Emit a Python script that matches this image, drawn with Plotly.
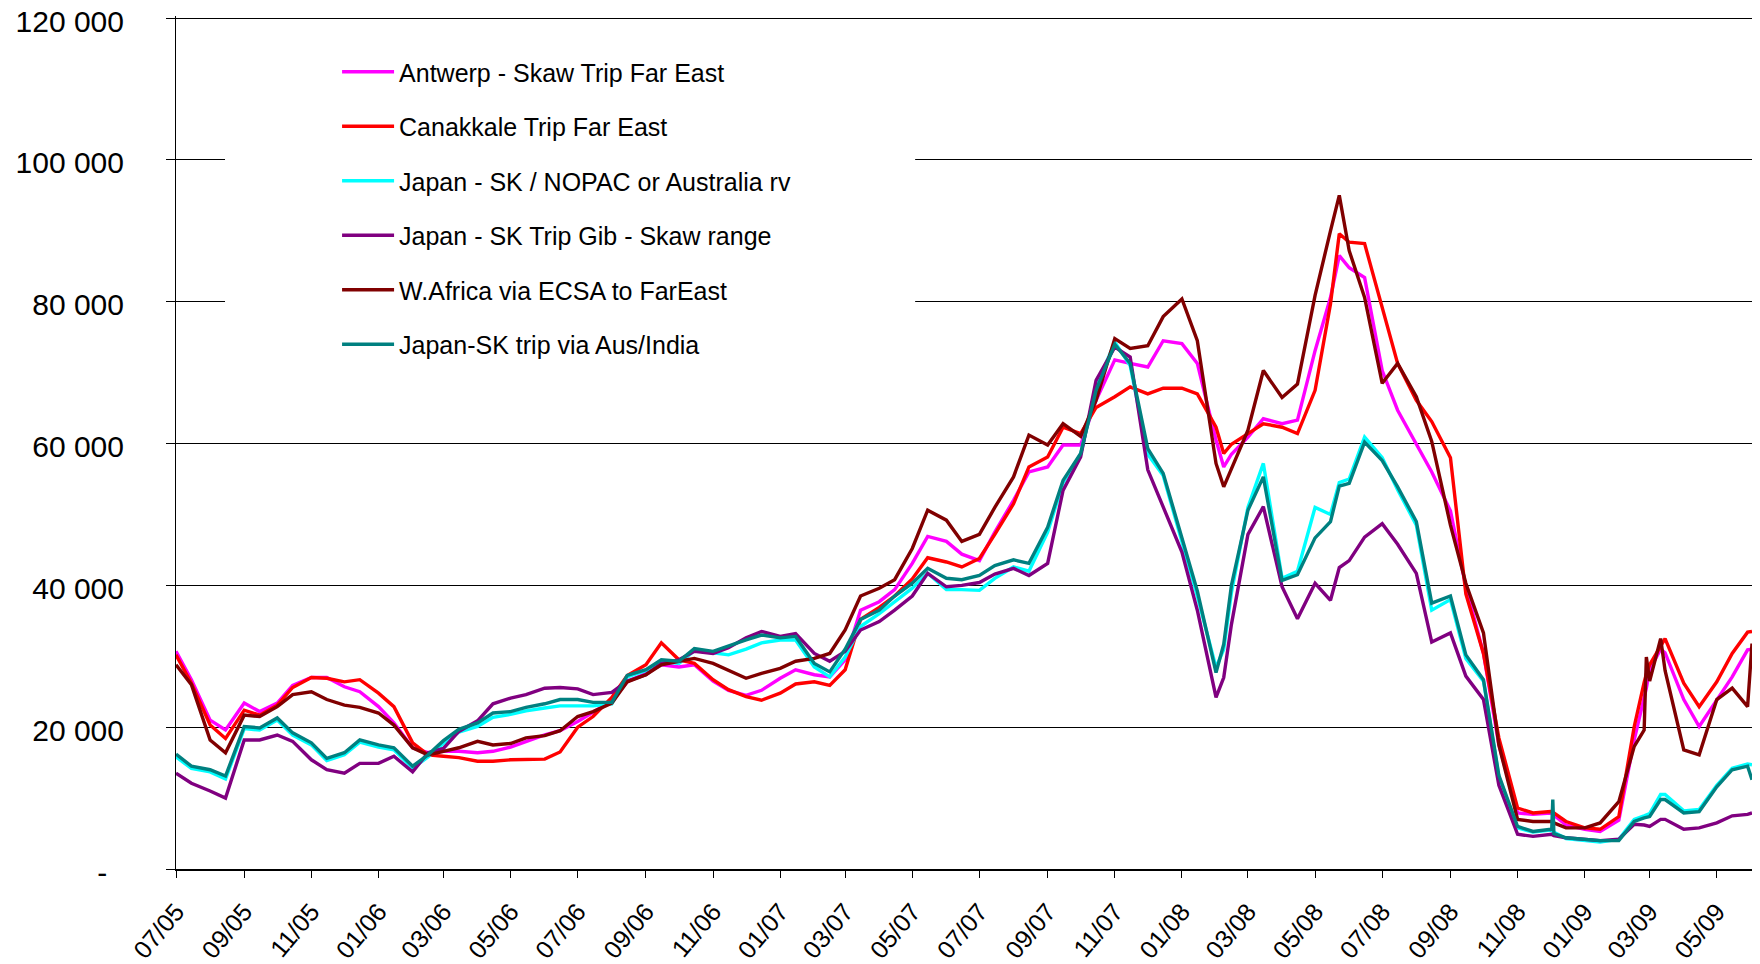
import plotly.graph_objects as go

dates = [
    "2005-07-01", "2005-07-15", "2005-08-01", "2005-08-15", "2005-09-01", "2005-09-15",
    "2005-10-01", "2005-10-15", "2005-11-01", "2005-11-15", "2005-12-01", "2005-12-15",
    "2006-01-01", "2006-01-15", "2006-02-01", "2006-02-15", "2006-03-01", "2006-03-15",
    "2006-04-01", "2006-04-15", "2006-05-01", "2006-05-15", "2006-06-01", "2006-06-15",
    "2006-07-01", "2006-07-15", "2006-08-01", "2006-08-15", "2006-09-01", "2006-09-15",
    "2006-10-01", "2006-10-15", "2006-11-01", "2006-11-15", "2006-12-01", "2006-12-15",
    "2007-01-01", "2007-01-15", "2007-02-01", "2007-02-15", "2007-03-01", "2007-03-15",
    "2007-04-01", "2007-04-15", "2007-05-01", "2007-05-15", "2007-06-01", "2007-06-15",
    "2007-07-01", "2007-07-15", "2007-08-01", "2007-08-15", "2007-09-01", "2007-09-15",
    "2007-10-01", "2007-10-15", "2007-11-01", "2007-11-15", "2007-12-01", "2007-12-15",
    "2008-01-01", "2008-01-15", "2008-02-01", "2008-02-08", "2008-02-15", "2008-03-01",
    "2008-03-15", "2008-04-01", "2008-04-15", "2008-05-01", "2008-05-15", "2008-05-23",
    "2008-06-01", "2008-06-15", "2008-07-01", "2008-07-15", "2008-08-01", "2008-08-15",
    "2008-09-01", "2008-09-15", "2008-10-01", "2008-10-15", "2008-11-01", "2008-11-15",
    "2008-12-01", "2008-12-02", "2008-12-03", "2008-12-04", "2008-12-15",
    "2009-01-01", "2009-01-15", "2009-02-01", "2009-02-15", "2009-02-24", "2009-02-26",
    "2009-03-01", "2009-03-11", "2009-03-15", "2009-04-01", "2009-04-15", "2009-05-01",
    "2009-05-15", "2009-05-29", "2009-06-02",
]

antwerp_far_east = [
    30700, 26700, 21000, 19600, 23400, 22200, 23400, 25900, 27000, 27000, 25700, 25000,
    22900, 20600, 17100, 16400, 16600, 16600, 16400, 16600, 17200, 18000, 18900, 19500,
    20800, 22100, 23700, 26400, 27600, 28800, 28500, 28800, 26500, 25200, 24500, 25200,
    26900, 28100, 27400, 27100, 29500, 36500, 37700, 39400, 43100, 46900, 46200, 44400,
    43500, 47500, 52000, 56000, 56700, 59800, 59800, 66100, 71800, 71300, 70800, 74500,
    74100, 71300, 60500, 56700, 58500, 60900, 63500, 62800, 63300, 73100, 80600, 86500,
    84800, 83400, 70300, 64700, 60000, 56000, 50500, 39800, 30400, 17500, 7900, 7700,
    7900, 7800, 7700, 7600, 6200,
    5600, 5300, 6900, 18200, 23900, 25500, 28100, 31000, 30500, 23900, 20100, 23900,
    27100, 30900, 31000,
]

canakkale_far_east = [
    30200, 26200, 20300, 18400, 22400, 21700, 23100, 25600, 27000, 26900, 26400, 26700,
    24800, 22900, 17800, 16100, 15900, 15700, 15200, 15200, 15400, 15500, 15500, 16500,
    20000, 21500, 24200, 27300, 28800, 31900, 29500, 29000, 26700, 25300, 24300, 23800,
    24800, 26100, 26400, 25900, 28100, 35200, 36900, 38500, 40900, 43900, 43300, 42600,
    43800, 47200, 51500, 56700, 58100, 62300, 61400, 65100, 66600, 68000, 67000, 67800,
    67800, 67000, 62300, 58600, 59900, 61400, 62800, 62300, 61400, 67500, 79700, 89600,
    88400, 88200, 79200, 71300, 66100, 63100, 58000, 38800, 30400, 18500, 8600, 7900,
    8100, 8100, 8000, 7900, 6700,
    5800, 5600, 7400, 20100, 26300, 27500, 28800, 31500, 32500, 26200, 22900, 26400,
    30400, 33400, 33500,
]

japan_nopac_australia = [
    15800, 14200, 13700, 12700, 19800, 19600, 21000, 18900, 17500, 15300, 16100, 17900,
    17200, 16800, 14200, 15800, 17700, 19300, 20100, 21400, 21800, 22300, 22700, 23000,
    23000, 23000, 23300, 27100, 28000, 29300, 29000, 30800, 30500, 30200, 31000, 31900,
    32300, 32300, 28500, 27100, 29900, 34200, 36000, 37700, 39600, 41700, 39400, 39400,
    39300, 41000, 42600, 42000, 47500, 54500, 58500, 68000, 74300, 71000, 58500, 55500,
    46000, 38500, 28400, 31000, 39000, 51000, 57200, 41000, 42000, 51000, 50000, 54500,
    55000, 60900, 58000, 53500, 48500, 36500, 38000, 29700, 26500, 13000, 5800, 5200,
    5500, 5400, 5300, 5200, 4300,
    4000, 3800, 4200, 7000, 7500, 7600, 7800, 10500, 10500, 8200, 8400, 11800,
    14200, 14800, 14700,
]

japan_gib_skaw = [
    13500, 12100, 11000, 10000, 18200, 18200, 18900, 18000, 15400, 14000, 13500, 14900,
    14900, 15900, 13700, 16400, 17000, 19400, 20900, 23300, 24100, 24600, 25500, 25600,
    25400, 24600, 24900, 26500, 27400, 29000, 29500, 30700, 30400, 31200, 32600, 33500,
    32800, 33200, 30400, 29300, 30700, 33700, 34900, 36500, 38500, 41700, 39800, 40000,
    40400, 41600, 42400, 41400, 43100, 53400, 58100, 68900, 73600, 72200, 56300, 51100,
    44700, 36500, 24200, 27000, 34500, 47200, 51100, 39800, 35300, 40300, 37900, 42500,
    43500, 46800, 48700, 45800, 41700, 32000, 33300, 27200, 23900, 11800, 4900, 4600,
    4900, 4900, 4800, 4700, 4400,
    4200, 4000, 4200, 6300, 6200, 6100, 6000, 7000, 7000, 5600, 5800, 6500,
    7500, 7700, 7900,
]

wafrica_ecsa_far_east = [
    28800, 26000, 18200, 16400, 21700, 21500, 22900, 24600, 25000, 23900, 23100, 22800,
    22000, 20300, 17100, 16100, 16600, 17100, 18000, 17500, 17700, 18500, 18800, 19500,
    21500, 22200, 23400, 26400, 27400, 28800, 29300, 29700, 29000, 28000, 26900, 27600,
    28300, 29300, 29700, 30400, 33700, 38500, 39600, 40800, 45200, 50600, 49200, 46200,
    47200, 51000, 55300, 61200, 59800, 62800, 61000, 66100, 74800, 73400, 73800, 77900,
    80400, 74500, 57200, 53900, 56500, 61900, 70300, 66500, 68400, 80900, 90000, 95000,
    87200, 80600, 68500, 71300, 66600, 60300, 48500, 40300, 33300, 17500, 7000, 6700,
    6700, 6700, 6600, 6500, 5800,
    5800, 6500, 9500, 17300, 19600, 29900, 26500, 32500, 28000, 16800, 16100, 23900,
    25500, 22900, 31800,
]

japan_aus_india = [
    16200, 14500, 14000, 13100, 20100, 19900, 21300, 19200, 17800, 15600, 16400, 18200,
    17500, 17100, 14500, 16100, 18100, 19700, 20600, 22000, 22200, 22800, 23300, 23900,
    23900, 23500, 23500, 27300, 28100, 29500, 29300, 31100, 30700, 31500, 32300, 33000,
    32600, 32800, 29000, 27800, 31000, 35200, 36500, 38500, 40300, 42400, 41000, 40800,
    41400, 42800, 43600, 43100, 48200, 54800, 58600, 67500, 74000, 71300, 59300, 55800,
    46600, 39200, 27700, 31700, 40000, 50600, 55300, 40700, 41500, 46700, 49000, 54000,
    54400, 60200, 57600, 53900, 49000, 37500, 38500, 30200, 26700, 13200, 6000, 5300,
    5600, 5500, 9800, 5000, 4400,
    4200, 4000, 4000, 6700, 7200, 7300, 7400, 9800, 9800, 7900, 8100, 11600,
    14000, 14500, 12600,
]

series_names = [
    "Antwerp - Skaw Trip Far East",
    "Canakkale Trip Far East",
    "Japan - SK / NOPAC or Australia rv",
    "Japan - SK Trip Gib - Skaw range",
    "W.Africa via ECSA to FarEast",
    "Japan-SK trip via Aus/India",
]
series_values = [
    antwerp_far_east, canakkale_far_east, japan_nopac_australia,
    japan_gib_skaw, wafrica_ecsa_far_east, japan_aus_india,
]
series_colors = ["#FF00FF", "#FF0000", "#00FFFF", "#800080", "#800000", "#008080"]

x_tick_vals = [
    "2005-07-01", "2005-09-01", "2005-11-01", "2006-01-01", "2006-03-01", "2006-05-01",
    "2006-07-01", "2006-09-01", "2006-11-01", "2007-01-01", "2007-03-01", "2007-05-01",
    "2007-07-01", "2007-09-01", "2007-11-01", "2008-01-01", "2008-03-01", "2008-05-01",
    "2008-07-01", "2008-09-01", "2008-11-01", "2009-01-01", "2009-03-01", "2009-05-01",
]
x_tick_text = [
    "07/05", "09/05", "11/05", "01/06", "03/06", "05/06", "07/06", "09/06", "11/06",
    "01/07", "03/07", "05/07", "07/07", "09/07", "11/07", "01/08", "03/08", "05/08",
    "07/08", "09/08", "11/08", "01/09", "03/09", "05/09",
]
y_tick_vals = [0, 20000, 40000, 60000, 80000, 100000, 120000]
y_tick_text = ["-\u00a0\u00a0", "20 000", "40 000", "60 000", "80 000", "100 000", "120 000"]

fig = go.Figure()
for i, (name, vals, col) in enumerate(zip(series_names, series_values, series_colors)):
    fig.add_trace(go.Scatter(
        x=dates, y=vals, name=name, mode="lines",
        line=dict(color=col, width=3.4),
        legendgroup=str(i),
    ))

FONT = "Arial, Liberation Sans, sans-serif"
fig.update_layout(
    template="none",
    width=1744, height=956,
    margin=dict(l=168, r=0, t=8, b=95, pad=0),
    paper_bgcolor="white", plot_bgcolor="white",
    font=dict(family=FONT, color="black"),
    showlegend=True,
    legend=dict(
        x=0.1022, y=0.9613, xanchor="left", yanchor="top",
        bgcolor="rgba(0,0,0,0)", borderwidth=0,
        font=dict(family=FONT, size=25, color="black"),
        tracegroupgap=19, itemwidth=52,
    ),
    shapes=[dict(
        type="rect", xref="paper", yref="paper",
        x0=0.0311, x1=0.469, y0=0.585, y1=0.972,
        fillcolor="white", line=dict(width=0), layer="above",
    )],
)
fig.update_xaxes(
    type="date", range=["2005-07-01", "2009-06-02"], automargin=False,
    tickmode="array", tickvals=x_tick_vals, ticktext=x_tick_text,
    tickangle=-50, tickfont=dict(family=FONT, size=25, color="black"),
    ticklabeloverflow="allow", ticklabelstandoff=9,
    showgrid=False, zeroline=False,
    showline=True, linecolor="black", linewidth=2,
    ticks="outside", ticklen=7, tickcolor="black", tickwidth=1,
)
fig.update_yaxes(
    range=[0, 120300], automargin=False,
    tickmode="array", tickvals=y_tick_vals, ticktext=y_tick_text,
    tickfont=dict(family=FONT, size=30, color="black"),
    ticklabeloverflow="allow", ticklabelshift=3,
    showgrid=True, gridcolor="black", gridwidth=1,
    zeroline=False,
    showline=True, linecolor="black", linewidth=1,
    ticks="outside", ticklen=9, tickcolor="black", tickwidth=1,
    ticklabelstandoff=36,
)

fig.write_html("out.html")
